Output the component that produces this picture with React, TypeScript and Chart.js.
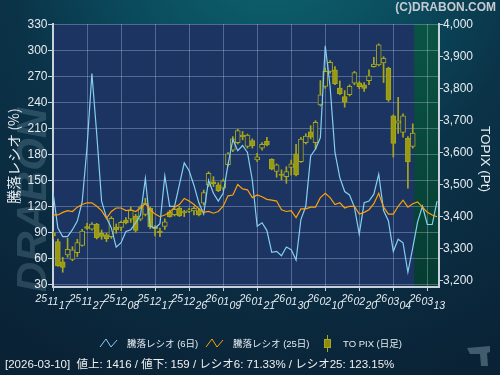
import React, { useEffect, useRef } from 'react';
import { Chart, registerables } from 'chart.js';

Chart.register(...registerables);

// ---- data ----
const dateLabels = ['251117', '251127', '251208', '251217', '251226', '260109', '260121', '260130', '260210', '260220', '260304', '260313'];
const dateStep = 7;
const xMax = 79.4;
const futureStart = 74.3;

const ratioTicks = [30, 60, 90, 120, 150, 180, 210, 240, 270, 300, 330];
const ratioMin = 27;
const ratioMax = 330;
const topixTicks = [3200, 3300, 3400, 3500, 3600, 3700, 3800, 3900, 4000];
const topixMin = 3178;
const topixMax = 4000;

const topixOpen = [3347, 3320, 3257, 3278, 3264, 3285, 3308, 3367, 3359, 3375, 3346, 3341, 3335, 3365, 3364, 3387, 3390, 3400, 3390, 3405, 3424, 3366, 3353, 3367, 3413, 3404, 3424, 3414, 3414, 3416, 3417, 3440, 3497, 3507, 3497, 3487, 3560, 3606, 3629, 3653, 3617, 3636, 3575, 3612, 3633, 3577, 3539, 3531, 3523, 3552, 3594, 3570, 3629, 3663, 3629, 3747, 3805, 3852, 3857, 3800, 3773, 3779, 3815, 3816, 3810, 3823, 3867, 3872, 3878, 3862, 3713, 3690, 3661, 3643, 3617];
const topixHigh = [3352, 3328, 3271, 3330, 3304, 3327, 3358, 3377, 3379, 3377, 3356, 3346, 3398, 3375, 3384, 3395, 3428, 3405, 3432, 3455, 3428, 3370, 3362, 3391, 3418, 3425, 3430, 3418, 3424, 3430, 3425, 3481, 3538, 3523, 3504, 3515, 3598, 3648, 3671, 3664, 3656, 3641, 3596, 3629, 3646, 3579, 3563, 3544, 3554, 3575, 3624, 3646, 3657, 3682, 3698, 3823, 3862, 3886, 3867, 3822, 3792, 3810, 3852, 3820, 3817, 3857, 3896, 3938, 3898, 3865, 3716, 3771, 3719, 3648, 3688];
const topixLow = [3328, 3242, 3224, 3271, 3260, 3273, 3306, 3358, 3356, 3328, 3327, 3320, 3330, 3346, 3354, 3375, 3380, 3350, 3385, 3400, 3360, 3338, 3335, 3358, 3396, 3400, 3398, 3398, 3410, 3403, 3400, 3434, 3492, 3492, 3476, 3481, 3556, 3601, 3625, 3638, 3612, 3612, 3570, 3606, 3619, 3544, 3521, 3513, 3502, 3528, 3525, 3567, 3625, 3641, 3608, 3744, 3799, 3846, 3810, 3779, 3740, 3775, 3810, 3798, 3789, 3810, 3865, 3869, 3817, 3758, 3584, 3658, 3646, 3487, 3612];
const topixClose = [3338, 3244, 3239, 3296, 3294, 3317, 3353, 3361, 3375, 3332, 3336, 3329, 3393, 3357, 3380, 3379, 3418, 3355, 3428, 3440, 3366, 3360, 3348, 3382, 3398, 3421, 3400, 3410, 3419, 3424, 3403, 3473, 3533, 3500, 3479, 3510, 3594, 3641, 3667, 3648, 3653, 3619, 3585, 3624, 3622, 3546, 3560, 3527, 3539, 3563, 3528, 3640, 3650, 3646, 3693, 3779, 3852, 3880, 3813, 3782, 3756, 3805, 3848, 3804, 3799, 3838, 3875, 3935, 3893, 3763, 3627, 3697, 3713, 3570, 3659];

const ratio6 = [136, 95, 85, 85, 93, 103, 125, 188, 273, 203, 126, 107, 95, 73, 78, 91, 93, 101, 110, 152, 97, 95, 100, 155, 120, 120, 145, 170, 161, 144, 124, 111, 150, 135, 126, 135, 168, 197, 184, 190, 182, 150, 97, 101, 92, 67, 68, 63, 73, 70, 58, 105, 120, 178, 186, 199, 305, 258, 182, 153, 137, 133, 119, 88, 124, 126, 134, 157, 115, 103, 68, 82, 78, 44, 72, 102, 120, 99, 99, 126];
const ratio25 = [110, 110, 113, 115, 114, 119, 122, 124, 124, 120, 115, 106, 114, 118, 118, 115, 116, 114, 118, 123, 116, 111, 108, 110, 113, 119, 122, 129, 126, 122, 117, 113, 114, 112, 114, 120, 132, 133, 145, 140, 139, 130, 133, 131, 128, 127, 126, 116, 114, 115, 107, 117, 117, 119, 119, 130, 135, 130, 122, 124, 118, 120, 120, 111, 113, 116, 123, 135, 119, 111, 111, 120, 127, 119, 123, 125, 119, 113, 110, 108];

const legendLabels = ['騰落レシオ (6日)', '騰落レシオ (25日)', 'TO PIX (日足)'];
const infoText = '[2026-03-10]  値上: 1416 / 値下: 159 / レシオ6: 71.33% / レシオ25: 123.15%';
const leftTitle = '騰落レシオ (%)';
const rightTitle = 'TOPIX (Pt)';
const copyright = '(C)DRABON.COM';

// ---- styles ----
const plotBg = '#1b3462';
const gridColor = 'rgba(215,225,250,0.30)';
const axisColor = '#c9d1dc';
const textColor = '#e6ebf0';
const line6Color = '#86cff0';
const line25Color = '#ffa10a';
const candleFill = '#9a9a12';
const candleEdge = '#a8a81c';
const LAT = '"Liberation Sans", "Noto Sans CJK JP", sans-serif';

const decorPlugin = {
  id: 'decor',
  beforeDraw(chart: any) {
    const ctx = chart.ctx as CanvasRenderingContext2D;
    const { left, right, top, bottom } = chart.chartArea;
    const W = chart.width, H = chart.height;
    ctx.save();
    const g = ctx.createRadialGradient(270, -60, 10, 270, -60, 470);
    g.addColorStop(0, '#0e6470');
    g.addColorStop(0.3, '#0a4c5e');
    g.addColorStop(0.55, '#0b3348');
    g.addColorStop(1, '#0a2236');
    ctx.fillStyle = g;
    ctx.fillRect(0, 0, W, H);
    // watermark
    ctx.save();
    ctx.translate(34, 200);
    ctx.rotate(-Math.PI / 2);
    ctx.font = 'italic bold 42px "Liberation Sans", sans-serif';
    ctx.fillStyle = 'rgba(130,165,180,0.26)';
    ctx.textAlign = 'center';
    ctx.textBaseline = 'middle';
    ctx.fillText('DRABON', 0, 0);
    ctx.restore();
    // plot backgrounds
    ctx.fillStyle = plotBg;
    ctx.fillRect(left, top, right - left, bottom - top);
    const fx = chart.scales.x.getPixelForValue(futureStart);
    const fg = ctx.createLinearGradient(0, top, 0, bottom);
    fg.addColorStop(0, '#0a5444');
    fg.addColorStop(1, '#063c31');
    ctx.fillStyle = fg;
    ctx.fillRect(fx, top, right - fx, bottom - top);
    ctx.restore();
  },
  afterDraw(chart: any) {
    const ctx = chart.ctx as CanvasRenderingContext2D;
    const { left, right, top, bottom } = chart.chartArea;
    const xs = chart.scales.x, ys = chart.scales.y, y1 = chart.scales.y1;
    ctx.save();
    ctx.strokeStyle = axisColor;
    ctx.lineWidth = 1;
    ctx.fillStyle = textColor;
    // left axis
    ctx.font = '12px ' + LAT;
    ctx.textAlign = 'right';
    ctx.textBaseline = 'middle';
    ratioTicks.forEach((v) => {
      const y = Math.round(ys.getPixelForValue(v)) + 0.5;
      ctx.beginPath(); ctx.moveTo(left - 5, y); ctx.lineTo(left, y); ctx.stroke();
      ctx.fillText(String(v), left - 5.5, y + 0.5);
    });
    // right axis
    ctx.textAlign = 'left';
    topixTicks.forEach((v) => {
      const y = Math.round(y1.getPixelForValue(v)) + 0.5;
      ctx.beginPath(); ctx.moveTo(right, y); ctx.lineTo(right + 4, y); ctx.stroke();
      ctx.fillText(v.toLocaleString('en-US'), right + 4, y + 0.5);
    });
    // bottom axis
    ctx.font = 'italic 10.5px ' + LAT;
    ctx.textAlign = 'left';
    ctx.textBaseline = 'middle';
    dateLabels.forEach((s, i) => {
      const gx = Math.round(xs.getPixelForValue(i * dateStep)) + 0.5;
      ctx.beginPath(); ctx.moveTo(gx, bottom); ctx.lineTo(gx, bottom + 4); ctx.stroke();
      const parts = [s.slice(0, 2), s.slice(2, 4), s.slice(4, 6)];
      let x = gx - 18;
      const dy = [299, 302, 306];
      parts.forEach((p, k) => {
        ctx.fillText(p, x, dy[k]);
        x += ctx.measureText(p).width + 0.3;
      });
    });
    // titles
    ctx.save();
    ctx.translate(14, 156);
    ctx.rotate(-Math.PI / 2);
    ctx.textAlign = 'center';
    ctx.font = '14px "Noto Sans CJK JP", sans-serif';
    ctx.fillText(leftTitle, 0, 0);
    ctx.restore();
    ctx.save();
    ctx.translate(485, 159);
    ctx.rotate(Math.PI / 2);
    ctx.textAlign = 'center';
    ctx.font = '13.5px ' + LAT;
    ctx.fillText(rightTitle, 0, 0);
    ctx.restore();
    // copyright
    ctx.font = 'bold 12px ' + LAT;
    ctx.textAlign = 'right';
    ctx.fillStyle = '#c5cbd0';
    ctx.fillText(copyright, 496, 8);
    // legend
    ctx.fillStyle = textColor;
    ctx.textAlign = 'left';
    ctx.font = '9.5px ' + LAT;
    const ly = 344;
    const icon = (x0: number, col: string) => {
      ctx.strokeStyle = col;
      ctx.beginPath();
      ctx.moveTo(x0, ly + 3); ctx.lineTo(x0 + 6, ly - 5); ctx.lineTo(x0 + 11, ly + 3); ctx.lineTo(x0 + 17, ly - 4);
      ctx.stroke();
    };
    icon(100, line6Color);
    ctx.fillText(legendLabels[0], 127, ly);
    icon(206, line25Color);
    ctx.fillText(legendLabels[1], 233, ly);
    ctx.strokeStyle = candleEdge;
    ctx.beginPath(); ctx.moveTo(327.5, ly - 9); ctx.lineTo(327.5, ly + 8); ctx.stroke();
    ctx.fillStyle = '#8c8c10';
    ctx.fillRect(324, ly - 5, 7, 9);
    ctx.strokeRect(324.5, ly - 4.5, 6, 8);
    ctx.fillStyle = textColor;
    ctx.fillText(legendLabels[2], 343, ly);
    // info
    ctx.font = '11.5px ' + LAT;
    ctx.fillStyle = '#f0f0f0';
    ctx.fillText(infoText, 5, 364.5);
    // small icon bottom right
    ctx.fillStyle = 'rgba(110,140,155,0.55)';
    ctx.beginPath();
    ctx.moveTo(467, 348); ctx.lineTo(490, 346); ctx.lineTo(490, 352); ctx.lineTo(487, 353);
    ctx.lineTo(488, 366); ctx.lineTo(481, 366); ctx.lineTo(480, 354); ctx.lineTo(470, 354); ctx.closePath();
    ctx.fill();
    ctx.restore();
  },
};

export default function App() {
  const ref = useRef<HTMLCanvasElement>(null);
  useEffect(() => {
    document.body.style.margin = '0';
    const idx = topixOpen.map((_, i) => i);
    const chart = new Chart(ref.current as HTMLCanvasElement, {
      type: 'line',
      data: {
        datasets: [
          {
            type: 'line',
            label: legendLabels[0],
            data: ratio6.map((v, i) => ({ x: i, y: v })),
            yAxisID: 'y',
            borderColor: line6Color,
            borderWidth: 1.2,
            pointRadius: 0,
            tension: 0,
            order: 1,
          },
          {
            type: 'line',
            label: legendLabels[1],
            data: ratio25.map((v, i) => ({ x: i, y: v })),
            yAxisID: 'y',
            borderColor: line25Color,
            borderWidth: 1.2,
            pointRadius: 0,
            tension: 0,
            order: 0,
          },
          {
            type: 'bar',
            label: 'wick',
            data: idx.map((i) => ({ x: i, y: [topixLow[i], topixHigh[i]] })),
            yAxisID: 'y1',
            backgroundColor: candleEdge,
            borderWidth: 0,
            barThickness: 1,
            grouped: false,
            order: 3,
          } as any,
          {
            type: 'bar',
            label: legendLabels[2],
            data: idx.map((i) => ({ x: i, y: [topixOpen[i], topixClose[i]] })),
            yAxisID: 'y1',
            backgroundColor: idx.map((i) => (topixClose[i] < topixOpen[i] ? candleFill : plotBg)),
            borderColor: candleEdge,
            borderWidth: 1,
            borderSkipped: false,
            barThickness: 5,
            grouped: false,
            order: 2,
          } as any,
        ],
      },
      options: {
        responsive: false,
        animation: false,
        devicePixelRatio: 1,
        events: [],
        layout: { padding: { left: 53, right: 61, top: 24, bottom: 88 } },
        plugins: { legend: { display: false }, tooltip: { enabled: false }, title: { display: false } },
        scales: {
          x: {
            type: 'linear',
            min: 0,
            max: xMax,
            offset: false,
            afterBuildTicks: (s: any) => { s.ticks = dateLabels.map((_, i) => ({ value: i * dateStep })); },
            ticks: { display: false },
            grid: { color: gridColor, drawTicks: false, offset: false },
            border: { display: true, color: axisColor, width: 2 },
          },
          y: {
            type: 'linear',
            position: 'left',
            min: ratioMin,
            max: ratioMax,
            afterBuildTicks: (s: any) => { s.ticks = ratioTicks.map((v) => ({ value: v })); },
            ticks: { display: false },
            grid: { color: gridColor, drawTicks: false },
            border: { display: true, color: axisColor, width: 2 },
          },
          y1: {
            type: 'linear',
            position: 'right',
            min: topixMin,
            max: topixMax,
            afterBuildTicks: (s: any) => { s.ticks = topixTicks.map((v) => ({ value: v })); },
            ticks: { display: false },
            grid: { drawOnChartArea: false, drawTicks: false },
            border: { display: true, color: axisColor, width: 2 },
          },
        },
      } as any,
      plugins: [decorPlugin],
    });
    return () => chart.destroy();
  }, []);
  return <canvas ref={ref} width={500} height={375} style={{ display: 'block', width: 500, height: 375 }} />;
}
